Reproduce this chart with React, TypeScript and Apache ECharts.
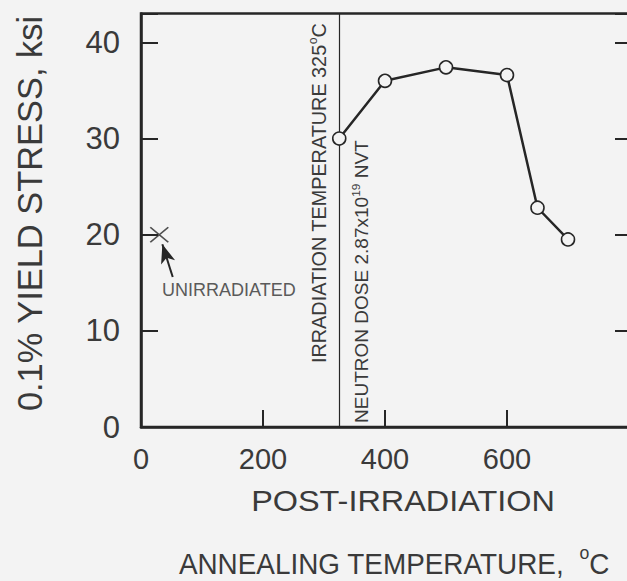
import React, { useEffect, useRef } from "react";
import * as echarts from "echarts";

// Post-irradiation annealing: 0.1% yield stress vs annealing temperature
const annealTemps = [325, 400, 500, 600, 650, 700];
const yieldStress = [30.0, 36.0, 37.4, 36.6, 22.8, 19.5];
const unirradiatedPoint = [30, 20];
const irradiationTemp = 325;
const arrowFrom = [52, 15.6];
const arrowTo = [35, 19.0];

const xTickValues = [0, 200, 400, 600];
const yTickValues = [0, 10, 20, 30, 40];
const X_MAX = 800;
const Y_MAX = 43;

const INK = "#262626";
const TEXT = "#3a3a3a";
const BG = "#f3f3f3";
const SANS = "'Liberation Sans', Arial, sans-serif";

export default function App() {
  const ref = useRef<HTMLDivElement>(null);

  useEffect(() => {
    if (!ref.current) return;
    const chart = echarts.init(ref.current, null, { renderer: "svg" });

    const yAxisCommon = {
      type: "value" as const,
      min: 0,
      max: Y_MAX,
      interval: 10,
      splitLine: { show: false },
      axisLine: { show: true, onZero: false, lineStyle: { color: INK, width: 2.5 } },
    };

    const rotatedNote = (x: number, y: number, squeeze: number, text: string) => ({
      type: "text",
      x,
      y,
      rotation: Math.PI / 2,
      scaleX: squeeze,
      scaleY: squeeze,
      style: {
        x: 0,
        y: 0,
        text,
        fill: TEXT,
        align: "left",
        verticalAlign: "middle",
        rich: {
          m: { fontSize: 21, fontFamily: SANS, fill: TEXT, lineHeight: 24, verticalAlign: "bottom" },
          s: { fontSize: 13, fontFamily: SANS, fill: TEXT, lineHeight: 24, verticalAlign: "top" },
        },
      },
    });

    chart.setOption({
      animation: false,
      backgroundColor: BG,
      grid: {
        left: 141,
        top: 13.5,
        right: -2,
        bottom: 154,
        show: true,
        borderColor: INK,
        borderWidth: 2.5,
        backgroundColor: "transparent",
        outerBoundsMode: "none",
      },
      xAxis: {
        type: "value",
        min: 0,
        max: X_MAX,
        interval: 200,
        splitLine: { show: false },
        axisLine: { show: true, onZero: false, lineStyle: { color: INK, width: 2.5 } },
        axisTick: { show: true, inside: true, length: 17, lineStyle: { color: INK, width: 2 } },
        axisLabel: {
          margin: 17,
          fontSize: 29,
          fontFamily: SANS,
          color: TEXT,
          formatter: (v: number) => (xTickValues.includes(v) ? String(v) : ""),
        },
      },
      yAxis: [
        {
          ...yAxisCommon,
          position: "left",
          axisTick: { show: true, inside: true, length: 17, lineStyle: { color: INK, width: 2 } },
          axisLabel: {
            margin: 21,
            fontSize: 31,
            fontFamily: SANS,
            color: TEXT,
            formatter: (v: number) => (yTickValues.includes(v) ? String(v) : ""),
          },
        },
        {
          ...yAxisCommon,
          position: "right",
          axisTick: { show: true, inside: true, length: 14, lineStyle: { color: INK, width: 2 } },
          axisLabel: { show: false },
        },
      ],
      series: [
        {
          type: "line",
          data: annealTemps.map((t, i) => [t, yieldStress[i]]),
          symbol: "circle",
          symbolSize: 13,
          lineStyle: { color: INK, width: 2.5 },
          itemStyle: { color: BG, borderColor: INK, borderWidth: 1.6 },
          z: 3,
          markLine: {
            silent: true,
            symbol: "none",
            label: { show: false },
            lineStyle: { color: INK, width: 1.2, type: "solid" },
            data: [{ xAxis: irradiationTemp }],
            z: 1,
          },
        },
        {
          type: "scatter",
          data: [unirradiatedPoint],
          symbol: "path://M0 0L10 10M10 0L0 10",
          symbolSize: [18, 15],
          itemStyle: { color: "transparent", borderColor: INK, borderWidth: 1.6 },
          markLine: {
            silent: true,
            symbol: ["none", "arrow"],
            symbolSize: [11, 19],
            label: { show: false },
            lineStyle: { color: INK, width: 2, type: "solid" },
            itemStyle: { color: INK },
            data: [[{ coord: arrowFrom }, { coord: arrowTo }]],
          },
        },
      ],
      graphic: [
        {
          type: "text",
          x: 30,
          y: 213.5,
          rotation: Math.PI / 2,
          scaleX: 0.93,
          scaleY: 0.93,
          style: {
            x: 0,
            y: 0,
            text: "0.1% YIELD STRESS, ksi",
            font: `37px ${SANS}`,
            fill: TEXT,
            align: "center",
            verticalAlign: "middle",
          },
        },
        {
          type: "text",
          x: 403,
          y: 501,
          scaleX: 1.08,
          style: {
            x: 0,
            y: 0,
            text: "POST-IRRADIATION",
            font: `30px ${SANS}`,
            fill: TEXT,
            align: "center",
            verticalAlign: "middle",
          },
        },
        {
          type: "text",
          x: 394,
          y: 561,
          scaleX: 0.93,
          style: {
            x: 0,
            y: 0,
            text: "{m|ANNEALING TEMPERATURE,  }{s|o}{m|C}",
            fill: TEXT,
            align: "center",
            verticalAlign: "middle",
            rich: {
              m: { fontSize: 30, fontFamily: SANS, fill: TEXT, lineHeight: 36, verticalAlign: "bottom" },
              s: { fontSize: 19, fontFamily: SANS, fill: TEXT, lineHeight: 36, verticalAlign: "top" },
            },
          },
        },
        rotatedNote(318, 363, 0.944, "{m|IRRADIATION TEMPERATURE 325}{s|o}{m|C}"),
        rotatedNote(360, 423, 0.906, "{m|NEUTRON DOSE 2.87x10}{s|19}{m| NVT}"),
        {
          type: "text",
          style: {
            x: 162,
            y: 290,
            text: "UNIRRADIATED",
            font: `18px ${SANS}`,
            fill: "#5a5a5a",
            align: "left",
            verticalAlign: "middle",
          },
        },
      ],
    });

    return () => chart.dispose();
  }, []);

  return (
    <div
      ref={ref}
      style={{ position: "fixed", left: 0, top: 0, width: 627, height: 581, background: BG }}
    />
  );
}
